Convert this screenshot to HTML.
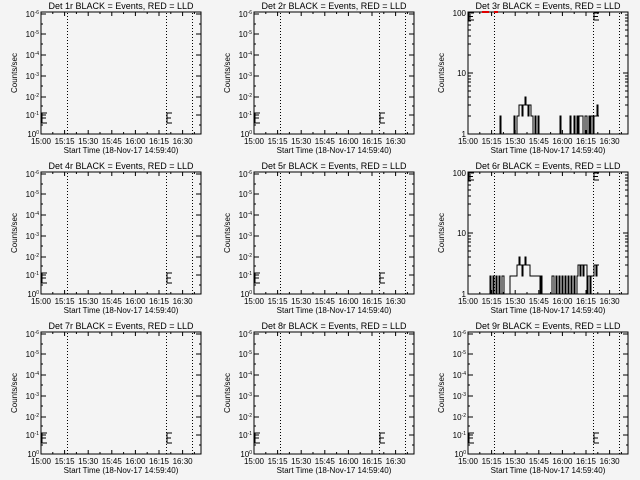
<!DOCTYPE html>
<html><head><meta charset="utf-8"><style>
html,body{margin:0;padding:0;background:#f4f4f4;}
svg{display:block;}
text{font-family:"Liberation Sans",sans-serif;fill:#000;}
.t{font-size:9px;}
.s{font-size:8px;}
.e{font-size:5px;}
</style></head><body>
<svg width="640" height="480" viewBox="0 0 640 480" xmlns="http://www.w3.org/2000/svg">
<rect width="640" height="480" fill="#f4f4f4"/>
<defs>
<g id="fr">
<rect x="41" y="12" width="160" height="122" fill="none" stroke="#000" stroke-width="1"/>
<g stroke="#000" stroke-width="1">
<path d="M64.6,134v-4M88.2,134v-4M111.8,134v-4M135.4,134v-4M159,134v-4M182.6,134v-4M64.6,12v4M88.2,12v4M111.8,12v4M135.4,12v4M159,12v4M182.6,12v4"/>
<path d="M52.8,134v-2M76.4,134v-2M100,134v-2M123.6,134v-2M147.2,134v-2M170.8,134v-2M194.4,134v-2M52.8,12v2M76.4,12v2M100,12v2M123.6,12v2M147.2,12v2M170.8,12v2M194.4,12v2"/>
</g>
<g stroke="#000" stroke-width="1" stroke-dasharray="1,2">
<path d="M67.5,13V134M166.5,13V134M192.5,13V134"/>
</g>
</g>
<g id="ya">
<path stroke="#000" d="M41,14h5M41,34h5M41,55h5M41,76h5M41,97h5M41,115h5M41,134h5M201,14h-5M201,34h-5M201,55h-5M201,76h-5M201,97h-5M201,115h-5M201,134h-5M41,24h2M41,44h2M41,65h2M41,86h2M41,106h2M41,125h2M201,24h-2M201,44h-2M201,65h-2M201,86h-2M201,106h-2M201,125h-2"/>
<path stroke="#000" fill="none" d="M47,113H42V123H47M42,118H46M172,113H167V123H172M167,118H171"/>
</g>
<g id="yb">
<path stroke="#000" d="M41,12h5M41,73h5M41,134h5M201,12h-5M201,73h-5M201,134h-5M41,116h3M41,105h3M41,97h3M41,91h3M41,86h3M41,82h3M41,79h3M41,76h3M41,55h3M41,44h3M41,36h3M41,30h3M41,25h3M41,21h3M41,18h3M41,15h3M201,116h-3M201,105h-3M201,97h-3M201,91h-3M201,86h-3M201,82h-3M201,79h-3M201,76h-3M201,55h-3M201,44h-3M201,36h-3M201,30h-3M201,25h-3M201,21h-3M201,18h-3M201,15h-3"/>
<path stroke="#000" fill="none" d="M47,13H42V20H47M42,16.5H46M172,13H167V20H172M167,16.5H171"/>
</g>
</defs>

<g transform="translate(0,0)">
<use href="#fr"/><use href="#ya"/>
<text class="t" x="121" y="9" text-anchor="middle">Det 1r BLACK = Events, RED = LLD</text>
<g class="s" text-anchor="end"><text x="39" y="17">10<tspan class="e" dy="-3">-6</tspan></text><text x="39" y="37">10<tspan class="e" dy="-3">-5</tspan></text><text x="39" y="58">10<tspan class="e" dy="-3">-4</tspan></text><text x="39" y="79">10<tspan class="e" dy="-3">-3</tspan></text><text x="39" y="100">10<tspan class="e" dy="-3">-2</tspan></text><text x="39" y="118">10<tspan class="e" dy="-3">-1</tspan></text><text x="39" y="137">10<tspan class="e" dy="-3">0</tspan></text></g>
<g class="s" text-anchor="middle"><text x="41" y="144">15:00</text><text x="64.6" y="144">15:15</text><text x="88.2" y="144">15:30</text><text x="111.8" y="144">15:45</text><text x="135.4" y="144">16:00</text><text x="159" y="144">16:15</text><text x="182.6" y="144">16:30</text></g>
<text class="s" x="121" y="153" text-anchor="middle">Start Time (18-Nov-17 14:59:40)</text>
<text class="s" transform="translate(17,73) rotate(-90)" text-anchor="middle">Counts/sec</text>
</g>
<g transform="translate(213,0)">
<use href="#fr"/><use href="#ya"/>
<text class="t" x="121" y="9" text-anchor="middle">Det 2r BLACK = Events, RED = LLD</text>
<g class="s" text-anchor="end"><text x="39" y="17">10<tspan class="e" dy="-3">-6</tspan></text><text x="39" y="37">10<tspan class="e" dy="-3">-5</tspan></text><text x="39" y="58">10<tspan class="e" dy="-3">-4</tspan></text><text x="39" y="79">10<tspan class="e" dy="-3">-3</tspan></text><text x="39" y="100">10<tspan class="e" dy="-3">-2</tspan></text><text x="39" y="118">10<tspan class="e" dy="-3">-1</tspan></text><text x="39" y="137">10<tspan class="e" dy="-3">0</tspan></text></g>
<g class="s" text-anchor="middle"><text x="41" y="144">15:00</text><text x="64.6" y="144">15:15</text><text x="88.2" y="144">15:30</text><text x="111.8" y="144">15:45</text><text x="135.4" y="144">16:00</text><text x="159" y="144">16:15</text><text x="182.6" y="144">16:30</text></g>
<text class="s" x="121" y="153" text-anchor="middle">Start Time (18-Nov-17 14:59:40)</text>
<text class="s" transform="translate(17,73) rotate(-90)" text-anchor="middle">Counts/sec</text>
</g>
<g transform="translate(427,0)">
<use href="#fr"/><use href="#yb"/>
<path d="M55,12H62M67,12H71" stroke="#e00000" stroke-width="2"/>
<path fill="none" stroke="#000" d="M41,134H73V116H74V134H87V116H88V134H90V116H92V105H95V116H96V105H98V97H99V105H101V116H102V105H104V116H106V134H108V116H109V134H111V116H112V134H133V116H134V134H143V116H144V134H147V116H148V134H150V116H151V134H152V116H156V134H158V116H160V134H162V116H163V134H164V116H166V134H167V116H170V105H171V116H172"/>
<text class="t" x="121" y="9" text-anchor="middle">Det 3r BLACK = Events, RED = LLD</text>
<g class="s" text-anchor="end"><text x="39" y="16">100</text><text x="39" y="76">10</text><text x="39" y="137">1</text></g>
<g class="s" text-anchor="middle"><text x="41" y="144">15:00</text><text x="64.6" y="144">15:15</text><text x="88.2" y="144">15:30</text><text x="111.8" y="144">15:45</text><text x="135.4" y="144">16:00</text><text x="159" y="144">16:15</text><text x="182.6" y="144">16:30</text></g>
<text class="s" x="121" y="153" text-anchor="middle">Start Time (18-Nov-17 14:59:40)</text>
<text class="s" transform="translate(17,73) rotate(-90)" text-anchor="middle">Counts/sec</text>
</g>
<g transform="translate(0,160)">
<use href="#fr"/><use href="#ya"/>
<text class="t" x="121" y="9" text-anchor="middle">Det 4r BLACK = Events, RED = LLD</text>
<g class="s" text-anchor="end"><text x="39" y="17">10<tspan class="e" dy="-3">-6</tspan></text><text x="39" y="37">10<tspan class="e" dy="-3">-5</tspan></text><text x="39" y="58">10<tspan class="e" dy="-3">-4</tspan></text><text x="39" y="79">10<tspan class="e" dy="-3">-3</tspan></text><text x="39" y="100">10<tspan class="e" dy="-3">-2</tspan></text><text x="39" y="118">10<tspan class="e" dy="-3">-1</tspan></text><text x="39" y="137">10<tspan class="e" dy="-3">0</tspan></text></g>
<g class="s" text-anchor="middle"><text x="41" y="144">15:00</text><text x="64.6" y="144">15:15</text><text x="88.2" y="144">15:30</text><text x="111.8" y="144">15:45</text><text x="135.4" y="144">16:00</text><text x="159" y="144">16:15</text><text x="182.6" y="144">16:30</text></g>
<text class="s" x="121" y="153" text-anchor="middle">Start Time (18-Nov-17 14:59:40)</text>
<text class="s" transform="translate(17,73) rotate(-90)" text-anchor="middle">Counts/sec</text>
</g>
<g transform="translate(213,160)">
<use href="#fr"/><use href="#ya"/>
<text class="t" x="121" y="9" text-anchor="middle">Det 5r BLACK = Events, RED = LLD</text>
<g class="s" text-anchor="end"><text x="39" y="17">10<tspan class="e" dy="-3">-6</tspan></text><text x="39" y="37">10<tspan class="e" dy="-3">-5</tspan></text><text x="39" y="58">10<tspan class="e" dy="-3">-4</tspan></text><text x="39" y="79">10<tspan class="e" dy="-3">-3</tspan></text><text x="39" y="100">10<tspan class="e" dy="-3">-2</tspan></text><text x="39" y="118">10<tspan class="e" dy="-3">-1</tspan></text><text x="39" y="137">10<tspan class="e" dy="-3">0</tspan></text></g>
<g class="s" text-anchor="middle"><text x="41" y="144">15:00</text><text x="64.6" y="144">15:15</text><text x="88.2" y="144">15:30</text><text x="111.8" y="144">15:45</text><text x="135.4" y="144">16:00</text><text x="159" y="144">16:15</text><text x="182.6" y="144">16:30</text></g>
<text class="s" x="121" y="153" text-anchor="middle">Start Time (18-Nov-17 14:59:40)</text>
<text class="s" transform="translate(17,73) rotate(-90)" text-anchor="middle">Counts/sec</text>
</g>
<g transform="translate(427,160)">
<use href="#fr"/><use href="#yb"/>
<path fill="none" stroke="#000" d="M41,134H63V116H64V134H66V116H67V134H69V116H70V134H72V116H73V134H75V116H77V134H83V116H90V105H92V97H93V105H95V116H96V105H98V97H99V105H103V116H113V134H114V116H115V134H125V116H127V134H129V116H130V134H132V116H133V134H135V116H136V134H138V116H139V134H141V116H142V134H144V116H145V134H147V116H148V134H150V116H151V105H153V116H154V105H156V116H157V105H160V134H161V116H163V134H164V116H167V105H169V116H170V105H172"/>
<text class="t" x="121" y="9" text-anchor="middle">Det 6r BLACK = Events, RED = LLD</text>
<g class="s" text-anchor="end"><text x="39" y="16">100</text><text x="39" y="76">10</text><text x="39" y="137">1</text></g>
<g class="s" text-anchor="middle"><text x="41" y="144">15:00</text><text x="64.6" y="144">15:15</text><text x="88.2" y="144">15:30</text><text x="111.8" y="144">15:45</text><text x="135.4" y="144">16:00</text><text x="159" y="144">16:15</text><text x="182.6" y="144">16:30</text></g>
<text class="s" x="121" y="153" text-anchor="middle">Start Time (18-Nov-17 14:59:40)</text>
<text class="s" transform="translate(17,73) rotate(-90)" text-anchor="middle">Counts/sec</text>
</g>
<g transform="translate(0,320)">
<use href="#fr"/><use href="#ya"/>
<text class="t" x="121" y="9" text-anchor="middle">Det 7r BLACK = Events, RED = LLD</text>
<g class="s" text-anchor="end"><text x="39" y="17">10<tspan class="e" dy="-3">-6</tspan></text><text x="39" y="37">10<tspan class="e" dy="-3">-5</tspan></text><text x="39" y="58">10<tspan class="e" dy="-3">-4</tspan></text><text x="39" y="79">10<tspan class="e" dy="-3">-3</tspan></text><text x="39" y="100">10<tspan class="e" dy="-3">-2</tspan></text><text x="39" y="118">10<tspan class="e" dy="-3">-1</tspan></text><text x="39" y="137">10<tspan class="e" dy="-3">0</tspan></text></g>
<g class="s" text-anchor="middle"><text x="41" y="144">15:00</text><text x="64.6" y="144">15:15</text><text x="88.2" y="144">15:30</text><text x="111.8" y="144">15:45</text><text x="135.4" y="144">16:00</text><text x="159" y="144">16:15</text><text x="182.6" y="144">16:30</text></g>
<text class="s" x="121" y="153" text-anchor="middle">Start Time (18-Nov-17 14:59:40)</text>
<text class="s" transform="translate(17,73) rotate(-90)" text-anchor="middle">Counts/sec</text>
</g>
<g transform="translate(213,320)">
<use href="#fr"/><use href="#ya"/>
<text class="t" x="121" y="9" text-anchor="middle">Det 8r BLACK = Events, RED = LLD</text>
<g class="s" text-anchor="end"><text x="39" y="17">10<tspan class="e" dy="-3">-6</tspan></text><text x="39" y="37">10<tspan class="e" dy="-3">-5</tspan></text><text x="39" y="58">10<tspan class="e" dy="-3">-4</tspan></text><text x="39" y="79">10<tspan class="e" dy="-3">-3</tspan></text><text x="39" y="100">10<tspan class="e" dy="-3">-2</tspan></text><text x="39" y="118">10<tspan class="e" dy="-3">-1</tspan></text><text x="39" y="137">10<tspan class="e" dy="-3">0</tspan></text></g>
<g class="s" text-anchor="middle"><text x="41" y="144">15:00</text><text x="64.6" y="144">15:15</text><text x="88.2" y="144">15:30</text><text x="111.8" y="144">15:45</text><text x="135.4" y="144">16:00</text><text x="159" y="144">16:15</text><text x="182.6" y="144">16:30</text></g>
<text class="s" x="121" y="153" text-anchor="middle">Start Time (18-Nov-17 14:59:40)</text>
<text class="s" transform="translate(17,73) rotate(-90)" text-anchor="middle">Counts/sec</text>
</g>
<g transform="translate(427,320)">
<use href="#fr"/><use href="#ya"/>
<text class="t" x="121" y="9" text-anchor="middle">Det 9r BLACK = Events, RED = LLD</text>
<g class="s" text-anchor="end"><text x="39" y="17">10<tspan class="e" dy="-3">-6</tspan></text><text x="39" y="37">10<tspan class="e" dy="-3">-5</tspan></text><text x="39" y="58">10<tspan class="e" dy="-3">-4</tspan></text><text x="39" y="79">10<tspan class="e" dy="-3">-3</tspan></text><text x="39" y="100">10<tspan class="e" dy="-3">-2</tspan></text><text x="39" y="118">10<tspan class="e" dy="-3">-1</tspan></text><text x="39" y="137">10<tspan class="e" dy="-3">0</tspan></text></g>
<g class="s" text-anchor="middle"><text x="41" y="144">15:00</text><text x="64.6" y="144">15:15</text><text x="88.2" y="144">15:30</text><text x="111.8" y="144">15:45</text><text x="135.4" y="144">16:00</text><text x="159" y="144">16:15</text><text x="182.6" y="144">16:30</text></g>
<text class="s" x="121" y="153" text-anchor="middle">Start Time (18-Nov-17 14:59:40)</text>
<text class="s" transform="translate(17,73) rotate(-90)" text-anchor="middle">Counts/sec</text>
</g>
</svg>
</body></html>
